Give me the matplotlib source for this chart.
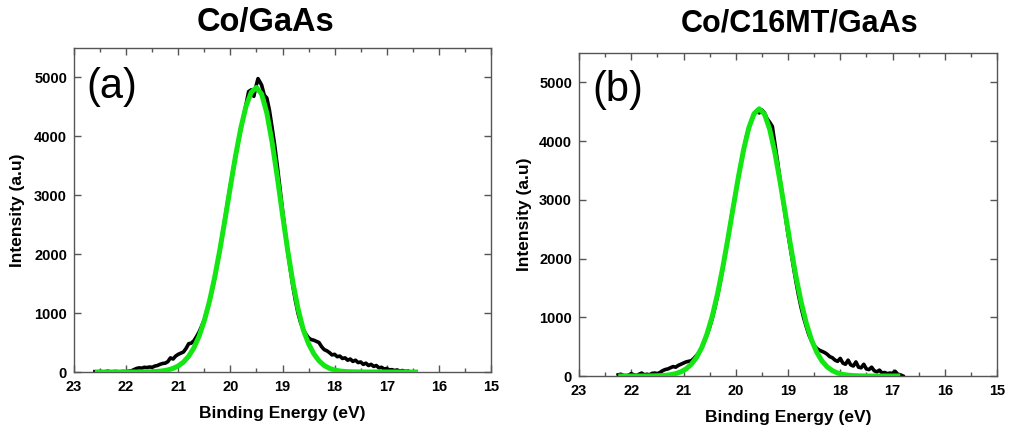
import matplotlib
matplotlib.use("Agg")
import matplotlib.pyplot as plt
from matplotlib.ticker import MultipleLocator

plt.rcParams['font.family'] = ['Liberation Sans', 'DejaVu Sans']

# ---------------- text ----------------
titles = ["Co/GaAs", "Co/C16MT/GaAs"]
panel_tags = ["(a)", "(b)"]
x_label = "Binding Energy (eV)"
y_label = "Intensity (a.u)"
x_ticks = [23, 22, 21, 20, 19, 18, 17, 16, 15]
y_ticks = [0, 1000, 2000, 3000, 4000, 5000]

# ---------------- data: panel (a) Co/GaAs ----------------
fit_a_energy = [22.6, 22.5, 22.4, 22.3, 22.2, 22.1, 22.0, 21.9, 21.8, 21.7,
                21.6, 21.5, 21.4, 21.3, 21.2, 21.1, 21.0, 20.9, 20.8, 20.7,
                20.6, 20.5, 20.4, 20.3, 20.2, 20.1, 20.0, 19.9, 19.8, 19.7,
                19.6, 19.5, 19.4, 19.3, 19.2, 19.1, 19.0, 18.9, 18.8, 18.7,
                18.6, 18.5, 18.4, 18.3, 18.2, 18.1, 18.0, 17.9, 17.8, 17.7,
                17.6, 17.5, 17.4, 17.3, 17.2, 17.1, 17.0, 16.9, 16.8, 16.7,
                16.6, 16.5, 16.4]
fit_a_intensity = [0, 0, 0, 0, 0, 0, 0, 0, 0, 1,
                   2, 5, 10, 19, 35, 61, 103, 168, 268, 410,
                   607, 870, 1204, 1612, 2084, 2604, 3146, 3671, 4139, 4510,
                   4747, 4830, 4717, 4394, 3904, 3310, 2675, 2063, 1517, 1065,
                   712, 480, 310, 190, 110, 62, 33, 17, 8, 4,
                   2, 1, 0, 0, 0, 0, 0, 0, 0, 0,
                   0, 0, 0]

data_a_energy = [22.60, 22.55, 22.50, 22.45, 22.40, 22.35, 22.30, 22.25, 22.20, 22.15,
                 22.10, 22.05, 22.00, 21.95, 21.90, 21.85, 21.80, 21.75, 21.70, 21.65,
                 21.60, 21.55, 21.50, 21.45, 21.40, 21.35, 21.30, 21.25, 21.20, 21.15,
                 21.10, 21.05, 21.00, 20.95, 20.90, 20.85, 20.80, 20.75, 20.70, 20.65,
                 20.60, 20.55, 20.50, 20.45, 20.40, 20.35, 20.30, 20.25, 20.20, 20.15,
                 20.10, 20.05, 20.00, 19.95, 19.90, 19.85, 19.80, 19.75, 19.70, 19.65,
                 19.60, 19.55, 19.50, 19.47, 19.45, 19.40, 19.35, 19.30, 19.25, 19.20,
                 19.15, 19.10, 19.05, 19.00, 18.95, 18.90, 18.85, 18.80, 18.75, 18.70,
                 18.65, 18.60, 18.55, 18.50, 18.45, 18.40, 18.35, 18.30, 18.25, 18.20,
                 18.15, 18.10, 18.05, 18.00, 17.95, 17.90, 17.85, 17.80, 17.75, 17.70,
                 17.65, 17.60, 17.55, 17.50, 17.45, 17.40, 17.35, 17.30, 17.25, 17.20,
                 17.15, 17.10, 17.05, 17.00, 16.95, 16.90, 16.85, 16.80, 16.75, 16.70,
                 16.65, 16.60]
data_a_intensity = [5, 0, 10, 0, 5, 15, 0, 5, 10, 0,
                    5, 10, 5, 15, 20, 40, 60, 70, 65, 80,
                    75, 85, 80, 100, 110, 130, 145, 150, 175, 240,
                    220, 270, 300, 320, 340, 400, 480, 490, 530, 600,
                    680, 780, 890, 1040, 1200, 1390, 1600, 1830, 2080, 2350,
                    2620, 2900, 3170, 3420, 3660, 3900, 4110, 4330, 4540, 4760,
                    4790, 4680, 4880, 4980, 4950, 4870, 4700, 4650, 4440, 4150,
                    3850, 3500, 3130, 2750, 2390, 2050, 1740, 1450, 1200, 990,
                    830, 720, 640, 580, 550, 540, 520, 500, 430, 380,
                    360, 330, 290, 300, 260, 270, 230, 240, 200, 220,
                    180, 200, 160, 170, 130, 150, 110, 130, 95, 110,
                    70, 80, 50, 60, 35, 40, 25, 35, 15, 25,
                    10, 15]

# ---------------- data: panel (b) Co/C16MT/GaAs ----------------
fit_b_energy = [22.25, 22.15, 22.05, 21.95, 21.85, 21.75, 21.65, 21.55, 21.45, 21.35,
                21.25, 21.15, 21.05, 20.95, 20.85, 20.75, 20.65, 20.55, 20.45, 20.35,
                20.25, 20.15, 20.05, 19.95, 19.85, 19.75, 19.65, 19.55, 19.45, 19.35,
                19.25, 19.15, 19.05, 18.95, 18.85, 18.75, 18.65, 18.55, 18.45, 18.35,
                18.25, 18.15, 18.05, 17.95, 17.85, 17.75, 17.65, 17.55, 17.45, 17.35,
                17.25, 17.15, 17.05, 16.95, 16.85]
fit_b_intensity = [0, 0, 0, 0, 0, 0, 1, 3, 6, 11,
                   22, 40, 71, 121, 200, 317, 486, 716, 1017, 1393,
                   1839, 2339, 2866, 3385, 3852, 4226, 4467, 4550, 4460, 4200,
                   3799, 3303, 2762, 2216, 1706, 1265, 901, 614, 405, 255,
                   155, 91, 50, 27, 14, 7, 3, 1, 0, 0,
                   0, 0, 0, 0, 0]

data_b_energy = [22.25, 22.20, 22.15, 22.10, 22.05, 22.00, 21.95, 21.90, 21.85, 21.80,
                 21.75, 21.70, 21.65, 21.60, 21.55, 21.50, 21.45, 21.40, 21.35, 21.30,
                 21.25, 21.20, 21.15, 21.10, 21.05, 21.00, 20.95, 20.90, 20.85, 20.80,
                 20.75, 20.70, 20.65, 20.60, 20.55, 20.50, 20.45, 20.40, 20.35, 20.30,
                 20.25, 20.20, 20.15, 20.10, 20.05, 20.00, 19.95, 19.90, 19.85, 19.80,
                 19.75, 19.70, 19.65, 19.60, 19.55, 19.50, 19.45, 19.40, 19.35, 19.30,
                 19.25, 19.20, 19.15, 19.10, 19.05, 19.00, 18.95, 18.90, 18.85, 18.80,
                 18.75, 18.70, 18.65, 18.60, 18.55, 18.50, 18.45, 18.40, 18.35, 18.30,
                 18.25, 18.20, 18.15, 18.10, 18.05, 18.00, 17.95, 17.90, 17.85, 17.80,
                 17.75, 17.70, 17.65, 17.60, 17.55, 17.50, 17.45, 17.40, 17.35, 17.30,
                 17.25, 17.20, 17.15, 17.10, 17.05, 17.00, 16.95, 16.90, 16.85, 16.80]
data_b_intensity = [20, 30, 10, 5, 15, 40, 20, 10, 30, 50,
                    20, 30, 20, 45, 50, 40, 60, 90, 110, 120,
                    140, 160, 150, 180, 200, 220, 240, 250, 260, 300,
                    350, 400, 480, 590, 700, 830, 980, 1160, 1360, 1580,
                    1830, 2080, 2340, 2610, 2880, 3130, 3380, 3620, 3840, 4060,
                    4220, 4350, 4460, 4520, 4480, 4530, 4480, 4380, 4320, 4250,
                    3950, 3650, 3330, 3020, 2720, 2420, 2150, 1880, 1620, 1380,
                    1170, 990, 840, 700, 600, 520, 470, 440, 420, 400,
                    370, 330, 310, 270, 250, 300, 220, 200, 270, 190,
                    170, 240, 150, 140, 200, 120, 110, 150, 90, 70,
                    100, 50, 60, 40, 50, 45, 80, 30, 20, 0]

panels = [
    (data_a_energy, data_a_intensity, fit_a_energy, fit_a_intensity),
    (data_b_energy, data_b_intensity, fit_b_energy, fit_b_intensity),
]

W, H = 1010, 434
fig = plt.figure(figsize=(W / 100, H / 100), dpi=100)

# axes boxes in pixels: left, top, right, bottom
boxes = [(74, 48, 491, 372), (579, 53, 997, 376)]
title_x = [266, 800]
title_size = [23.5, 22]
tag_pos = [(0.03, 0.88), (0.033, 0.885)]
ylab_x = [-0.1175, -0.112]

DATA_COLOR = "#000000"
FIT_COLOR = "#14e614"
SPINE = "#555555"

for i, (box, (de, di, fe, fi)) in enumerate(zip(boxes, panels)):
    l, t, r, b = box
    ax = fig.add_axes([l / W, 1 - b / H, (r - l) / W, (b - t) / H])
    ax.plot(de, di, color=DATA_COLOR, lw=2.6, solid_joinstyle='round', zorder=2)
    ax.plot(fe, fi, color=FIT_COLOR, lw=3.6, solid_capstyle='butt', zorder=3)
    ax.set_xlim(23, 15)
    ax.set_ylim(0, 5500)
    ax.set_xticks(x_ticks)
    ax.set_yticks(y_ticks)
    ax.xaxis.set_minor_locator(MultipleLocator(0.5))
    ax.tick_params(which='both', direction='in', top=True, right=True,
                   color=SPINE, width=1.0)
    ax.tick_params(which='major', length=5)
    ax.tick_params(which='minor', length=3)
    ax.tick_params(axis='x', pad=6)
    ax.tick_params(axis='y', pad=5)
    for lab in ax.get_xticklabels() + ax.get_yticklabels():
        lab.set_fontweight('bold')
        lab.set_fontsize(10.5)
    for sp in ax.spines.values():
        sp.set_color(SPINE)
        sp.set_linewidth(1.0)
    ax.set_xlabel(x_label, fontsize=12.5, fontweight='bold')
    ax.set_ylabel(y_label, fontsize=12.5, fontweight='bold')
    ax.xaxis.set_label_coords(0.5, -0.105)
    ax.yaxis.set_label_coords(ylab_x[i], 0.5)
    ax.text(tag_pos[i][0], tag_pos[i][1], panel_tags[i], transform=ax.transAxes,
            fontsize=30, ha='left', va='center')
    fig.text(title_x[i] / W, 1 - 23 / H, titles[i], fontsize=title_size[i],
             fontweight='bold', ha='center', va='center')

fig.savefig("out.png", dpi=100)
